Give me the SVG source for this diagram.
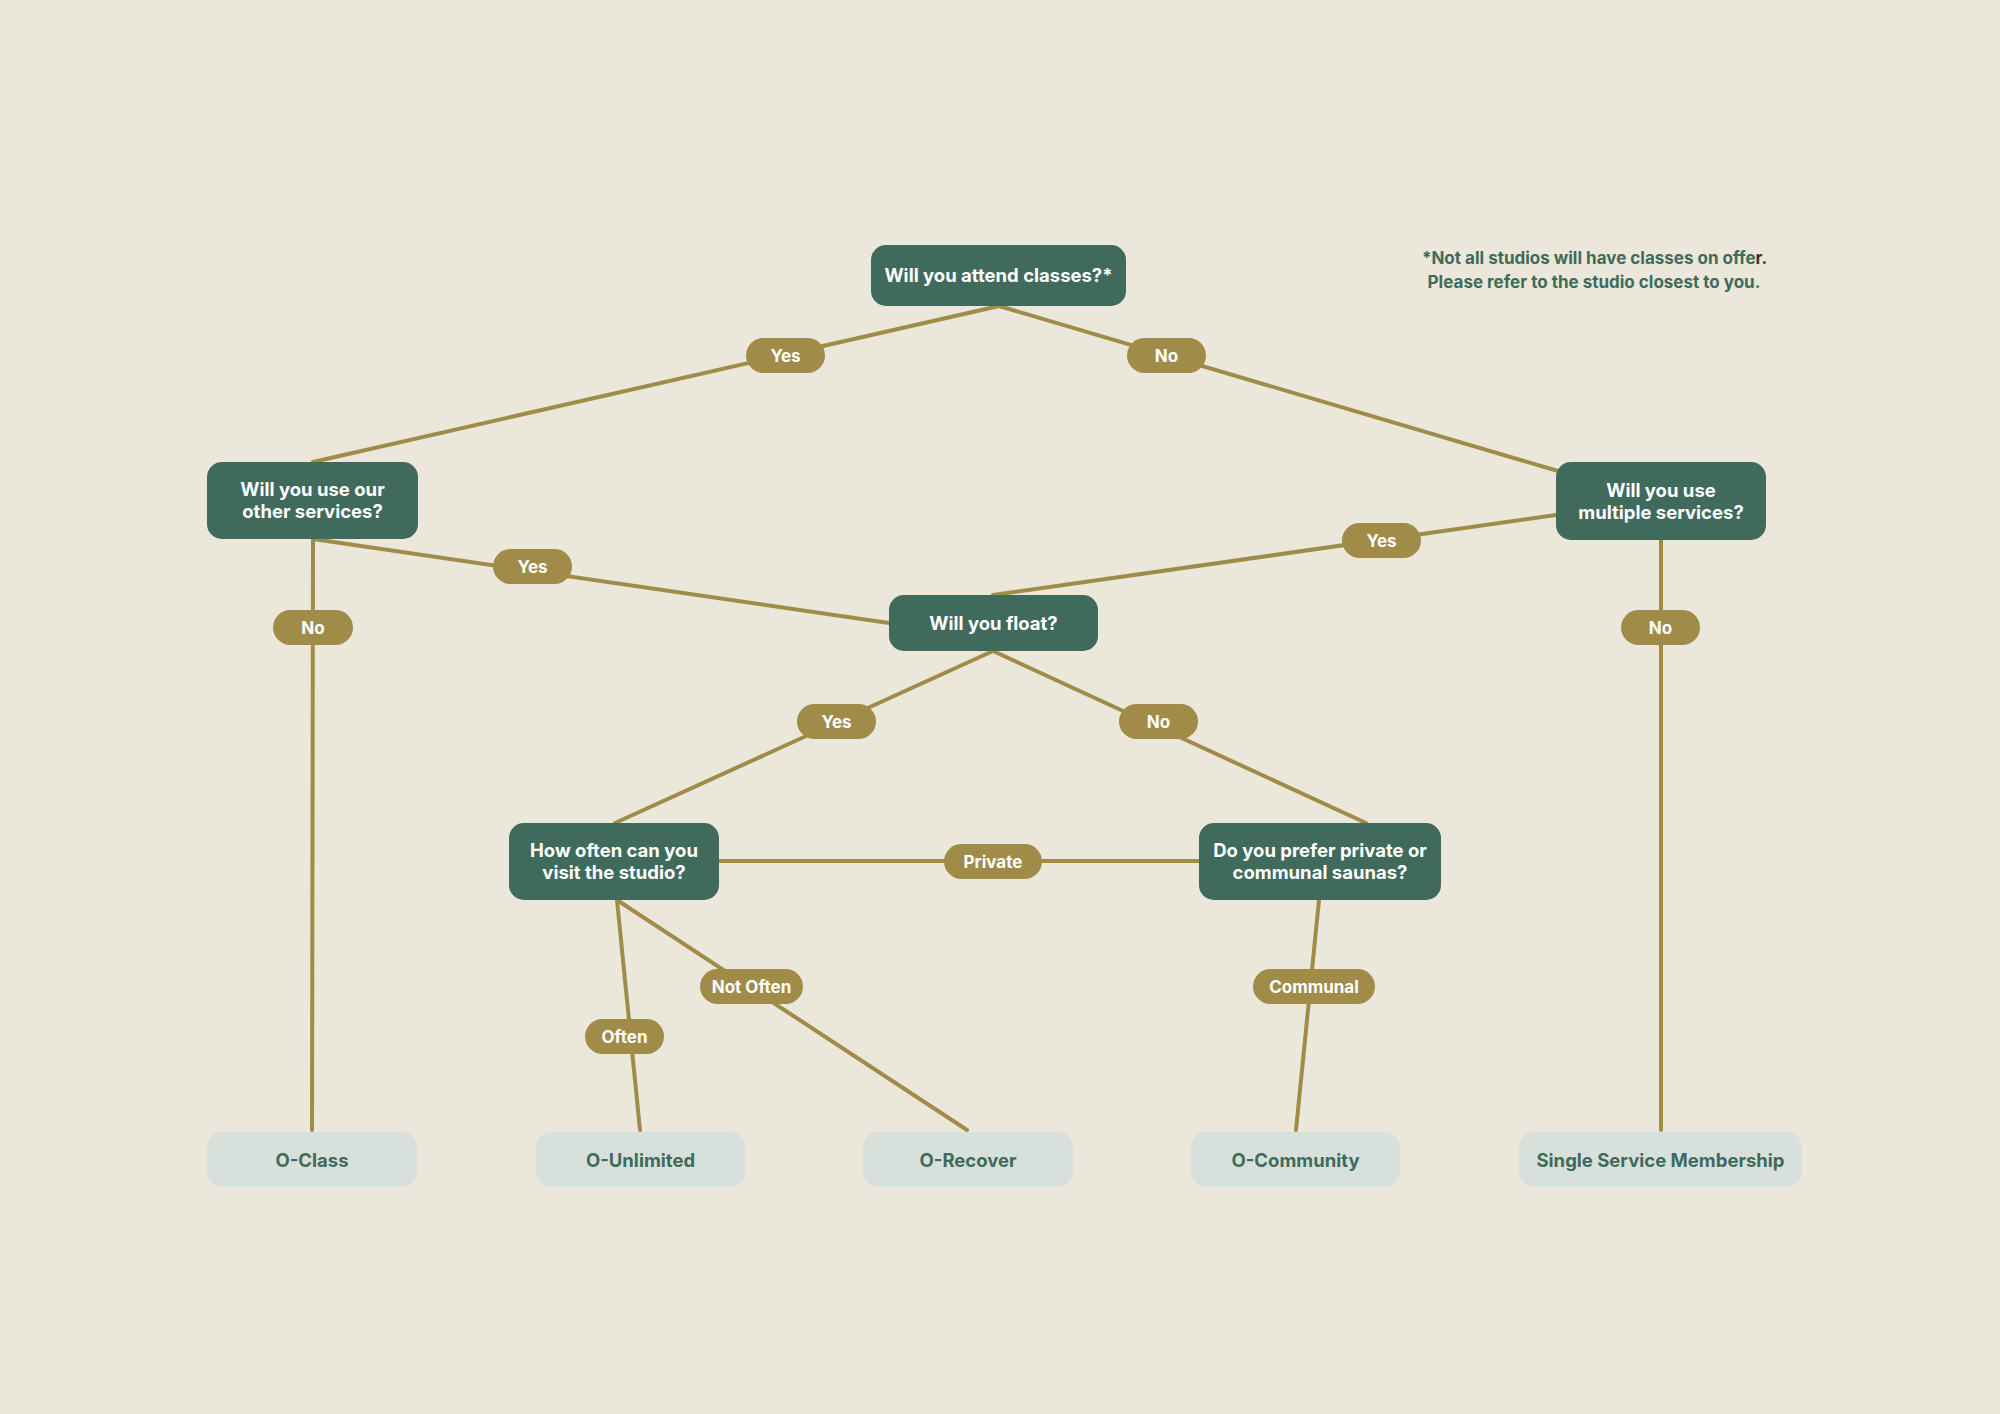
<svg xmlns="http://www.w3.org/2000/svg" width="2000" height="1414" viewBox="0 0 2000 1414">
<style>
.q{fill:#406a5b}
.qt{fill:#ffffff;font-family:Inter,"Liberation Sans",sans-serif;font-weight:700;font-size:18.5px;text-anchor:middle}
.r{fill:#d8e0dc}
.rt{fill:#3f6b5b;font-family:Inter,"Liberation Sans",sans-serif;font-weight:700;font-size:18.5px;text-anchor:middle}
.p{fill:#a08c48}
.pt{fill:#ffffff;font-family:Inter,"Liberation Sans",sans-serif;font-weight:700;font-size:17px;text-anchor:middle}
.c{stroke:#a08c48;stroke-width:4;fill:none;stroke-linecap:round}
.note{fill:#3f6b5b;font-family:Inter,"Liberation Sans",sans-serif;font-weight:700;font-size:17px;text-anchor:middle}
</style>
<rect width="2000" height="1414" fill="#ebe7da"/>
<g id="connectors">
<line class="c" x1="999" y1="306" x2="313" y2="462"/>
<line class="c" x1="999" y1="306" x2="1558" y2="471"/>
<line class="c" x1="313" y1="539" x2="889" y2="623"/>
<line class="c" x1="1556" y1="515" x2="993" y2="595"/>
<line class="c" x1="313" y1="539" x2="312" y2="1130"/>
<line class="c" x1="1661" y1="540" x2="1661" y2="1130"/>
<line class="c" x1="993" y1="651" x2="615" y2="823"/>
<line class="c" x1="993" y1="651" x2="1366" y2="823"/>
<line class="c" x1="719" y1="861" x2="1199" y2="861"/>
<line class="c" x1="617" y1="900" x2="640" y2="1130"/>
<line class="c" x1="617" y1="900" x2="967" y2="1130"/>
<line class="c" x1="1319" y1="900" x2="1296" y2="1130"/>
</g>
<g id="labels">
<g id="l-yes1"><rect class="p" x="746" y="338" width="79" height="35" rx="17.5"/><text class="pt" x="785.5" y="361.5">Yes</text></g>
<g id="l-no1"><rect class="p" x="1127" y="338" width="79" height="35" rx="17.5"/><text class="pt" x="1166.5" y="361.5">No</text></g>
<g id="l-yes2"><rect class="p" x="493" y="549" width="79" height="35" rx="17.5"/><text class="pt" x="532.5" y="572.5">Yes</text></g>
<g id="l-no2"><rect class="p" x="273" y="610" width="80" height="35" rx="17.5"/><text class="pt" x="313" y="633.5">No</text></g>
<g id="l-yes3"><rect class="p" x="1342" y="523" width="79" height="35" rx="17.5"/><text class="pt" x="1381.5" y="546.5">Yes</text></g>
<g id="l-no3"><rect class="p" x="1621" y="610" width="79" height="35" rx="17.5"/><text class="pt" x="1660.5" y="633.5">No</text></g>
<g id="l-yes4"><rect class="p" x="797" y="704" width="79" height="35" rx="17.5"/><text class="pt" x="836.5" y="727.5">Yes</text></g>
<g id="l-no4"><rect class="p" x="1119" y="704" width="79" height="35" rx="17.5"/><text class="pt" x="1158.5" y="727.5">No</text></g>
<g id="l-private"><rect class="p" x="944" y="844" width="98" height="35" rx="17.5"/><text class="pt" x="993" y="867.5">Private</text></g>
<g id="l-notoften"><rect class="p" x="700" y="969" width="103" height="35" rx="17.5"/><text class="pt" x="751.5" y="992.5">Not Often</text></g>
<g id="l-often"><rect class="p" x="585" y="1019" width="79" height="35" rx="17.5"/><text class="pt" x="624.5" y="1042.5">Often</text></g>
<g id="l-communal"><rect class="p" x="1253" y="969" width="122" height="35" rx="17.5"/><text class="pt" x="1314" y="992.5">Communal</text></g>
</g>
<g id="n-classes"><rect class="q" x="871" y="245" width="255" height="61" rx="15"/><text class="qt" x="998.5" y="282">Will you attend classes?*</text></g>
<g id="n-other"><rect class="q" x="207" y="462" width="211" height="77" rx="15"/><text class="qt" x="312.5" y="496">Will you use our</text><text class="qt" x="312.5" y="518">other services?</text></g>
<g id="n-multiple"><rect class="q" x="1556" y="462" width="210" height="78" rx="15"/><text class="qt" x="1661" y="497">Will you use</text><text class="qt" x="1661" y="519">multiple services?</text></g>
<g id="n-float"><rect class="q" x="889" y="595" width="209" height="56" rx="15"/><text class="qt" x="993.5" y="630">Will you float?</text></g>
<g id="n-often"><rect class="q" x="509" y="823" width="210" height="77" rx="15"/><text class="qt" x="614" y="857">How often can you</text><text class="qt" x="614" y="879">visit the studio?</text></g>
<g id="n-sauna"><rect class="q" x="1199" y="823" width="242" height="77" rx="15"/><text class="qt" x="1320" y="857">Do you prefer private or</text><text class="qt" x="1320" y="879">communal saunas?</text></g>
<g id="r-class"><rect class="r" x="207" y="1132" width="210" height="55" rx="15"/><text class="rt" x="312" y="1166.5">O-Class</text></g>
<g id="r-unlimited"><rect class="r" x="536" y="1132" width="209" height="55" rx="15"/><text class="rt" x="640.5" y="1166.5">O-Unlimited</text></g>
<g id="r-recover"><rect class="r" x="863" y="1132" width="210" height="55" rx="15"/><text class="rt" x="968" y="1166.5">O-Recover</text></g>
<g id="r-community"><rect class="r" x="1191" y="1132" width="209" height="55" rx="15"/><text class="rt" x="1295.5" y="1166.5">O-Community</text></g>
<g id="r-single"><rect class="r" x="1519" y="1132" width="283" height="55" rx="15"/><text class="rt" x="1660.5" y="1166.5">Single Service Membership</text></g>
<g id="footnote">
<text class="note" x="1594.5" y="264">*Not all studios will have classes on offe<tspan fill="#333333">r.</tspan></text>
<text class="note" x="1594" y="288">Please refer to the studio closest to you.</text>
</g>
</svg>
